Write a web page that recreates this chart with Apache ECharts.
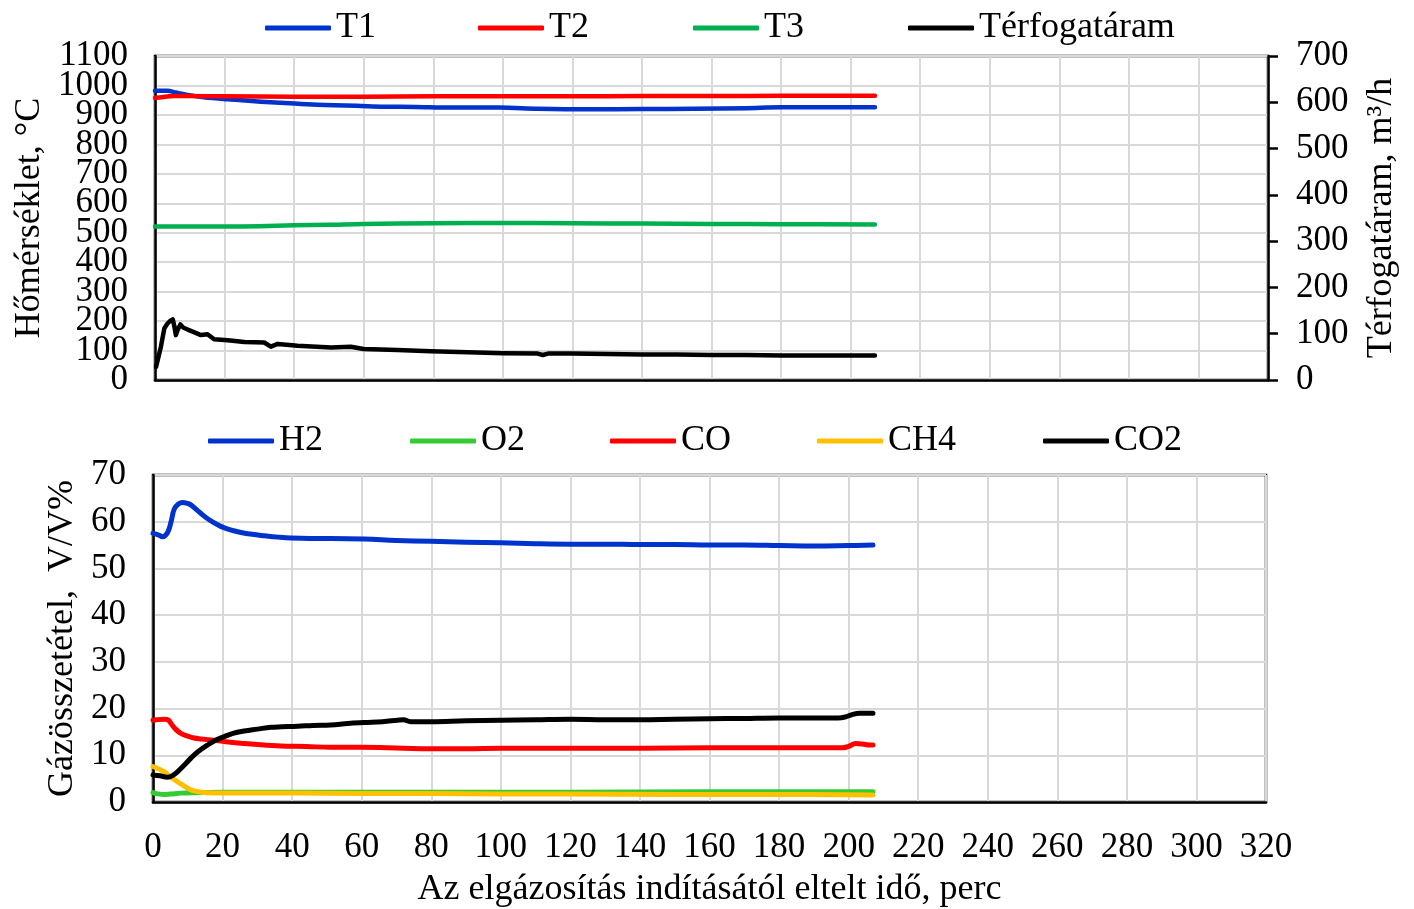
<!DOCTYPE html>
<html>
<head>
<meta charset="utf-8">
<script src="https://cdn.jsdelivr.net/npm/echarts@6/dist/echarts.min.js"></script>
<style>
  html, body { margin: 0; padding: 0; background: #fff; }
  #chart { width: 1414px; height: 909px; }
</style>
</head>
<body>
<div id="chart"></div>
<script>
// ---- Upper panel: temperatures (°C) and volume flow (m³/h) ----
const t1Time = [0, 3.6, 6, 9.4, 14, 20.9, 25, 30.5, 36, 42, 51.5, 58, 66, 75, 85, 99, 110, 125, 140, 155, 170, 180, 190, 200, 207];
const t1Vals = [982, 982, 976, 968, 960, 953, 950, 945, 941, 937, 933, 931, 928, 927, 925, 925, 921, 919, 920, 921, 923, 926, 926, 926, 926];

const t2Time = [0, 2, 4, 6, 10, 20, 40, 60, 80, 100, 120, 140, 160, 180, 200, 207];
const t2Vals = [958, 960, 963, 964, 964, 963, 962, 962, 963, 963, 963, 964, 964, 965, 965, 965];

const t3Time = [0, 10, 20, 30, 40, 50, 60, 80, 100, 120, 140, 160, 180, 207];
const t3Vals = [521, 521, 521, 522, 525, 527, 530, 532, 533, 532, 531, 530, 529, 528];

const flowTime = [0.3, 0.8, 1.7, 2.7, 3.6, 4.4, 5.1, 5.6, 6.0, 6.6, 7.3, 8.2, 9.4, 11, 13.2, 15.1, 17, 20.9, 25.7, 31.4, 33.3, 35.3, 41, 50.6, 56.3, 60, 69.7, 79.3, 90, 100, 110, 111.5, 113, 120, 130, 140, 150, 160, 170, 180, 190, 200, 207];
const flowVals = [28, 30, 72, 112, 122, 128, 131, 115, 97, 110, 120, 113, 109, 104, 97, 99, 88, 86, 82, 81, 72, 78, 74, 70, 72, 67, 65, 62, 60, 58, 57, 54, 57, 57, 56, 55, 55, 54, 54, 53, 53, 53, 53];

// ---- Lower panel: gas composition (V/V%) ----
const h2Time = [0, 1.5, 2.8, 4.2, 5.2, 6.1, 7.3, 8.5, 10, 10.9, 12.5, 14.7, 17, 19.5, 22, 25.3, 28.5, 32, 36, 39.7, 45, 51.2, 60.7, 70, 79.9, 90, 100, 110, 120, 130, 140, 150, 160, 170, 180, 190, 200, 207];
const h2Vals = [57.5, 57.2, 56.8, 57.7, 60, 62.7, 63.8, 64.1, 63.9, 63.6, 62.6, 61.2, 60, 59.0, 58.3, 57.7, 57.3, 57.0, 56.7, 56.5, 56.4, 56.4, 56.3, 56.0, 55.8, 55.6, 55.5, 55.3, 55.2, 55.2, 55.1, 55.1, 55.0, 55.0, 54.9, 54.8, 54.9, 55.0];

const o2Time = [0, 1, 3.2, 5, 8, 12, 20, 40, 80, 120, 160, 200, 207];
const o2Vals = [2.0, 1.8, 1.6, 1.7, 1.9, 2.0, 2.1, 2.1, 2.1, 2.1, 2.2, 2.2, 2.2];

const coTime = [0, 1, 3.2, 4.5, 5.1, 6.5, 8, 10, 11.8, 14, 17.5, 21, 25.2, 30, 36.8, 44, 51.1, 60, 72, 79.9, 90, 100, 120, 140, 160, 180, 198, 200, 202, 204, 206, 207];
const coVals = [17.5, 17.6, 17.7, 17.5, 16.9, 15.6, 14.7, 14.1, 13.7, 13.5, 13.2, 12.9, 12.6, 12.3, 12.0, 11.9, 11.7, 11.7, 11.5, 11.4, 11.4, 11.5, 11.5, 11.5, 11.6, 11.6, 11.6, 11.9, 12.5, 12.4, 12.2, 12.2];

const ch4Time = [0, 1, 3.2, 5, 7.1, 9, 10.9, 13, 15.7, 20, 30, 40, 60, 80, 100, 120, 150, 180, 207];
const ch4Vals = [7.6, 7.3, 6.5, 5.4, 4.3, 3.4, 2.6, 2.2, 2.0, 1.9, 1.9, 1.9, 1.8, 1.8, 1.7, 1.7, 1.6, 1.6, 1.5];

const co2Time = [0, 2, 4.2, 5.5, 7.1, 9, 10.9, 13, 15.7, 18, 20.5, 23, 26.2, 30, 33.9, 37, 41.6, 46, 51.1, 56, 60.7, 66, 70.3, 72, 74.1, 80, 90, 100, 110, 120, 130, 140, 150, 160, 170, 180, 190, 197, 199, 201, 203, 205, 207];
const co2Vals = [5.8, 5.6, 5.3, 5.6, 6.5, 7.9, 9.4, 10.8, 12.2, 13.2, 14.0, 14.7, 15.2, 15.6, 16.0, 16.1, 16.2, 16.4, 16.5, 16.8, 17.0, 17.2, 17.5, 17.6, 17.2, 17.2, 17.4, 17.5, 17.6, 17.7, 17.6, 17.6, 17.7, 17.8, 17.9, 18.0, 18.0, 18.0, 18.2, 18.7, 19.0, 19.0, 19.0];

// ---- Axis ranges and tick labels ----
const xRange = { min: 0, max: 320, interval: 20 };
const tempRange = { min: 0, max: 1100, interval: 100 };
const flowRange = { min: 0, max: 700, interval: 100 };
const gasRange = { min: 0, max: 70, interval: 10 };

// The temperature labels sit only ~29 px apart, so they are split over two
// overlaid label axes (even and odd hundreds) to keep every one of them visible.
const tempLabelsEven = [0, 200, 400, 600, 800, 1000];
const tempLabelsOdd = [100, 300, 500, 700, 900, 1100];

const FONT = '"Liberation Serif", "Times New Roman", serif';
const TICK_SIZE = 35;
const NAME_SIZE = 36;
const GRID_LINE = { show: true, lineStyle: { color: '#d9d9d9', width: 2 } };
const AXIS_LINE = { show: true, lineStyle: { color: '#000', width: 2.5 } };

function tickLabels(margin, customValues) {
  const label = {
    fontFamily: FONT, fontSize: TICK_SIZE, color: '#000', margin: margin,
    formatter: function (v) { return String(v); },
    showMinLabel: true, showMaxLabel: true, hideOverlap: false
  };
  if (customValues) label.customValues = customValues;
  return label;
}

function pairs(xs, ys) { return xs.map((x, i) => [x, ys[i]]); }

function lineSeries(name, color, xs, ys, gridIdx, yIdx, width, smooth) {
  return {
    name: name, type: 'line', xAxisIndex: gridIdx, yAxisIndex: yIdx,
    data: pairs(xs, ys), showSymbol: false, symbol: 'none',
    smooth: smooth, color: color,
    lineStyle: { color: color, width: width, cap: 'round', join: 'round' },
    emphasis: { disabled: true }, animation: false
  };
}

function legendItem(name, left, top) {
  return {
    data: [name], left: left, top: top, orient: 'horizontal', padding: 0,
    icon: 'roundRect', itemWidth: 66, itemHeight: 5, itemGap: 0,
    textStyle: { fontFamily: FONT, fontSize: NAME_SIZE, color: '#000' },
    selectedMode: false
  };
}

const chart = echarts.init(document.getElementById('chart'), null, { renderer: 'canvas' });

chart.setOption({
  backgroundColor: '#fff',
  animation: false,
  textStyle: { fontFamily: FONT },
  legend: [
    legendItem('T1', 265, 10),
    legendItem('T2', 478, 10),
    legendItem('T3', 693, 10),
    legendItem('Térfogatáram', 908, 10),
    legendItem('H2', 208, 423),
    legendItem('O2', 410, 423),
    legendItem('CO', 610, 423),
    legendItem('CH4', 817, 423),
    legendItem('CO2', 1043, 423)
  ],
  grid: [
    { left: 155, top: 56, width: 1113, height: 324, show: true, borderColor: '#000', borderWidth: 2.5, containLabel: false },
    { left: 153, top: 475, width: 1113, height: 327, show: true, borderColor: '#000', borderWidth: 2.5, containLabel: false }
  ],
  xAxis: [
    {
      type: 'value', gridIndex: 0, min: xRange.min, max: xRange.max, interval: xRange.interval,
      axisLine: AXIS_LINE, axisTick: { show: false }, axisLabel: { show: false }, splitLine: GRID_LINE
    },
    {
      type: 'value', gridIndex: 1, min: xRange.min, max: xRange.max, interval: xRange.interval,
      axisLine: AXIS_LINE, axisTick: { show: false }, splitLine: GRID_LINE,
      axisLabel: tickLabels(28),
      name: 'Az elgázosítás indításától eltelt idő, perc', nameLocation: 'middle', nameGap: 70,
      nameTextStyle: { fontFamily: FONT, fontSize: NAME_SIZE, color: '#000' }
    }
  ],
  yAxis: [
    {
      type: 'value', gridIndex: 0, position: 'left', min: tempRange.min, max: tempRange.max, interval: tempRange.interval,
      axisLine: AXIS_LINE, axisTick: { show: false }, splitLine: GRID_LINE,
      axisLabel: tickLabels(27, tempLabelsEven),
      name: 'Hőmérséklet, °C', nameLocation: 'middle', nameGap: 94,
      nameTextStyle: { fontFamily: FONT, fontSize: NAME_SIZE, color: '#000' }
    },
    {
      type: 'value', gridIndex: 0, position: 'right', min: flowRange.min, max: flowRange.max, interval: flowRange.interval,
      axisLine: AXIS_LINE, splitLine: { show: false },
      axisTick: { show: true, inside: false, length: 10, lineStyle: { color: '#000', width: 2.5 } },
      axisLabel: tickLabels(28),
      name: 'Térfogatáram, m³/h', nameLocation: 'middle', nameGap: 96,
      nameTextStyle: { fontFamily: FONT, fontSize: NAME_SIZE, color: '#000' }
    },
    {
      type: 'value', gridIndex: 1, position: 'left', min: gasRange.min, max: gasRange.max, interval: gasRange.interval,
      axisLine: AXIS_LINE, axisTick: { show: false }, splitLine: GRID_LINE,
      axisLabel: tickLabels(27),
      name: 'Gázösszetétel,  V/V%', nameLocation: 'middle', nameGap: 67,
      nameTextStyle: { fontFamily: FONT, fontSize: NAME_SIZE, color: '#000' }
    },
    {
      // second label layer of the temperature axis (odd hundreds)
      type: 'value', gridIndex: 0, position: 'left', min: tempRange.min, max: tempRange.max, interval: tempRange.interval,
      axisLine: { show: false }, axisTick: { show: false }, splitLine: { show: false },
      axisLabel: tickLabels(27, tempLabelsOdd)
    }
  ],
  series: [
    lineSeries('T1', '#0033CC', t1Time, t1Vals, 0, 0, 4.5, 0.3),
    lineSeries('T2', '#FF0000', t2Time, t2Vals, 0, 0, 4.5, 0.3),
    lineSeries('T3', '#00B050', t3Time, t3Vals, 0, 0, 4.5, 0.3),
    lineSeries('Térfogatáram', '#000000', flowTime, flowVals, 0, 1, 4.5, false),
    lineSeries('H2', '#0033CC', h2Time, h2Vals, 1, 2, 5, 0.4),
    lineSeries('O2', '#33CC33', o2Time, o2Vals, 1, 2, 5, 0.4),
    lineSeries('CO', '#FF0000', coTime, coVals, 1, 2, 5, 0.4),
    lineSeries('CH4', '#FFC000', ch4Time, ch4Vals, 1, 2, 5, 0.4),
    lineSeries('CO2', '#000000', co2Time, co2Vals, 1, 2, 5, 0.4)
  ]
});
</script>
</body>
</html>
